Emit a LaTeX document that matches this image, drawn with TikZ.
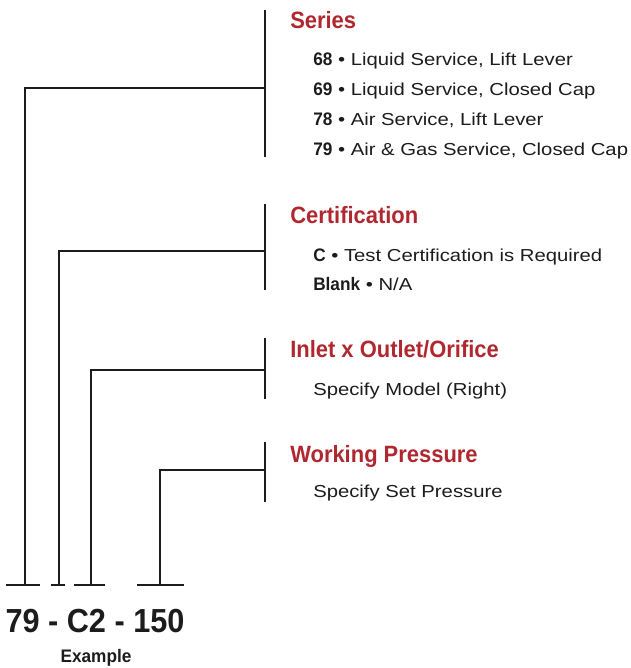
\documentclass[tikz,border=0pt]{standalone}
\usepackage{fontspec}
\setmainfont{Liberation Sans}
\newfontfamily\bodyfont{Liberation Sans}[FakeStretch=1.17]
\newfontfamily\headfont{Liberation Sans}[FakeStretch=0.93]
\newfontfamily\numfont{Liberation Sans}[FakeStretch=0.95]
\newfontfamily\codefont{Liberation Sans}[FakeStretch=0.92]
\newcommand\nb[1]{{\fontsize{13.6pt}{15pt}\selectfont\numfont\bfseries #1}}
\definecolor{hred}{HTML}{B0282F}
\definecolor{ink}{HTML}{1C1C1C}
\begin{document}
\begin{tikzpicture}[x=0.75pt,y=-0.75pt,
  line/.style={draw=ink,line width=1.6pt},
  head/.style={anchor=base west,inner sep=0pt,text=hred,font=\fontsize{17.7pt}{20pt}\selectfont\headfont\bfseries},
  body/.style={anchor=base west,inner sep=0pt,text=ink,font=\fontsize{13pt}{15pt}\selectfont\bodyfont},
  code/.style={anchor=base,inner sep=0pt,text=ink,font=\fontsize{25pt}{28pt}\selectfont\codefont\bfseries},
  exlabel/.style={anchor=base,inner sep=0pt,text=ink,font=\fontsize{13.6pt}{15pt}\selectfont\numfont\bfseries}]
\useasboundingbox (0,0) rectangle (631,668);
% headings and bodies
\node[head] (hs) at (290,28) {Series};
\node[body] (s1) at (313,65) {\nb{68} • Liquid Service, Lift Lever};
\node[body] (s2) at (313,95) {\nb{69} • Liquid Service, Closed Cap};
\node[body] (s3) at (313,125) {\nb{78} • Air Service, Lift Lever};
\node[body] (s4) at (313,155) {\nb{79} • Air \& Gas Service, Closed Cap};
\node[head] (hc) at (290,223) {Certification};
\node[body] (c1) at (313,261) {\nb{C} • Test Certification is Required};
\node[body] (c2) at (313,290) {\nb{Blank} • N/A};
\node[head] (hi) at (290,357) {Inlet x Outlet/Orifice};
\node[body] (i1) at (313,395) {Specify Model (Right)};
\node[head] (hw) at (290,462) {Working Pressure};
\node[body] (w1) at (313,497) {Specify Set Pressure};
% bars
\coordinate (sa) at (265,10);  \coordinate (sb) at (265,157); \coordinate (sm) at (265,88);
\coordinate (ca) at (265,204); \coordinate (cb) at (265,290); \coordinate (cm) at (265,251);
\coordinate (ia) at (265,338); \coordinate (ib) at (265,399); \coordinate (im) at (265,370);
\coordinate (wa) at (265,442); \coordinate (wb) at (265,502); \coordinate (wm) at (265,470);
\draw[line] (sa) -- (sb);
\draw[line] (ca) -- (cb);
\draw[line] (ia) -- (ib);
\draw[line] (wa) -- (wb);
% feet
\coordinate (f1) at (25,585);  \coordinate (f1l) at (6,585);   \coordinate (f1r) at (40,585);
\coordinate (f2) at (59,585);  \coordinate (f2l) at (51,585);  \coordinate (f2r) at (65,585);
\coordinate (f3) at (91,585);  \coordinate (f3l) at (74,585);  \coordinate (f3r) at (105,585);
\coordinate (f4) at (160,585); \coordinate (f4l) at (137,585); \coordinate (f4r) at (184,585);
\draw[line] (f1l) -- (f1r);
\draw[line] (f2l) -- (f2r);
\draw[line] (f3l) -- (f3r);
\draw[line] (f4l) -- (f4r);
% connectors
\draw[line] (sm) -| (f1);
\draw[line] (cm) -| (f2);
\draw[line] (im) -| (f3);
\draw[line] (wm) -| (f4);
% code
\node[code] (ex) at (95,632) {79 - C2 - 150};
\node[exlabel] (lab) at (96,662) {Example};
\end{tikzpicture}
\end{document}
